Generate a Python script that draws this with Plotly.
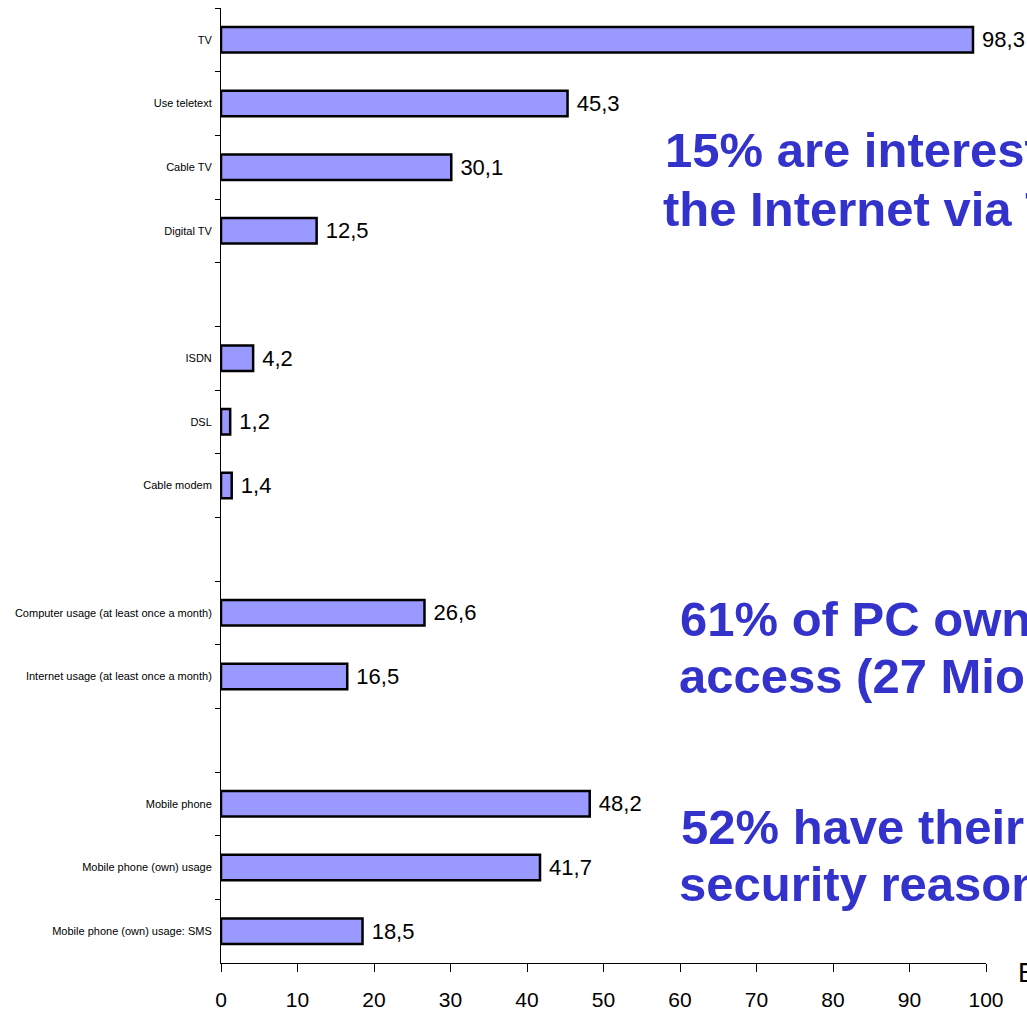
import plotly.graph_objects as go

categories = [
    "TV", "Use teletext", "Cable TV", "Digital TV", " ",
    "ISDN", "DSL", "Cable modem", "  ",
    "Computer usage (at least once a month)", "Internet usage (at least once a month)", "   ",
    "Mobile phone", "Mobile phone (own) usage", "Mobile phone (own) usage: SMS",
]
values = [98.3, 45.3, 30.1, 12.5, None, 4.2, 1.2, 1.4, None, 26.6, 16.5, None, 48.2, 41.7, 18.5]
x_ticks = [0, 10, 20, 30, 40, 50, 60, 70, 80, 90, 100]

labels = ["" if v is None else f"{v:.1f}".replace(".", ",") for v in values]

W, H = 1027, 1012
L = 221
T = 8
R = W - 986
B = H - 963
PW, PH = W - L - R, H - T - B

def px(x):
    return (x - L) / PW

def py(y):
    return (H - B - y) / PH

fig = go.Figure(go.Bar(
    y=categories, x=values, orientation="h",
    marker=dict(color="#9999FF", line=dict(color="black", width=2.5)),
    width=0.4,
    text=labels, texttemplate="\u00a0%{text}",
    textposition="outside", cliponaxis=False, constraintext="none",
    textfont=dict(family="Liberation Sans, Arial", size=22, color="black"),
    hoverinfo="skip",
))

blue = "#3333CC"
notes = [
    ("15% are interested in accessing", 663, 150),
    ("the Internet via TV", 661, 209),
    ("61% of PC owners have Internet", 678, 619),
    ("access (27 Mio people)", 677, 676),
    ("52% have their mobile phone for", 679, 827),
    ("security reasons", 677, 884),
]
annotations = []
for txt, x, y in notes:
    annotations.append(dict(
        text=txt, x=px(x), y=py(y), xref="paper", yref="paper",
        xanchor="left", yanchor="middle", showarrow=False,
        font=dict(family="Liberation Sans, Arial", size=49, color=blue, weight="bold"),
    ))
annotations.append(dict(
    text="E", x=px(1016), y=py(973), xref="paper", yref="paper",
    xanchor="left", yanchor="middle", showarrow=False,
    font=dict(family="Liberation Sans, Arial", size=27, color="black"),
))

fig.update_layout(
    width=W, height=H,
    margin=dict(l=L, r=R, t=T, b=B, pad=0, autoexpand=False),
    paper_bgcolor="white", plot_bgcolor="white",
    showlegend=False,
    annotations=annotations,
    xaxis=dict(
        range=[0, 100], tickvals=x_ticks, ticks="outside", ticklen=8, tickcolor="black",
        showline=True, linecolor="black", linewidth=1, showgrid=False, zeroline=False,
        ticklabelstandoff=10, automargin=False,
        tickfont=dict(family="Liberation Sans, Arial", size=21, color="black"),
    ),
    yaxis=dict(
        categoryorder="array", categoryarray=categories, autorange="reversed",
        tickson="boundaries", ticks="outside", ticklen=5, tickcolor="black",
        showline=True, linecolor="black", linewidth=1, showgrid=False,
        ticklabelstandoff=6, automargin=False,
        tickfont=dict(family="Liberation Sans, Arial", size=11, color="black"),
    ),
)

fig.write_html(
    "out.html",
    config={"displayModeBar": False},
    post_script="document.body.style.margin='0';document.body.style.overflow='hidden';",
)
